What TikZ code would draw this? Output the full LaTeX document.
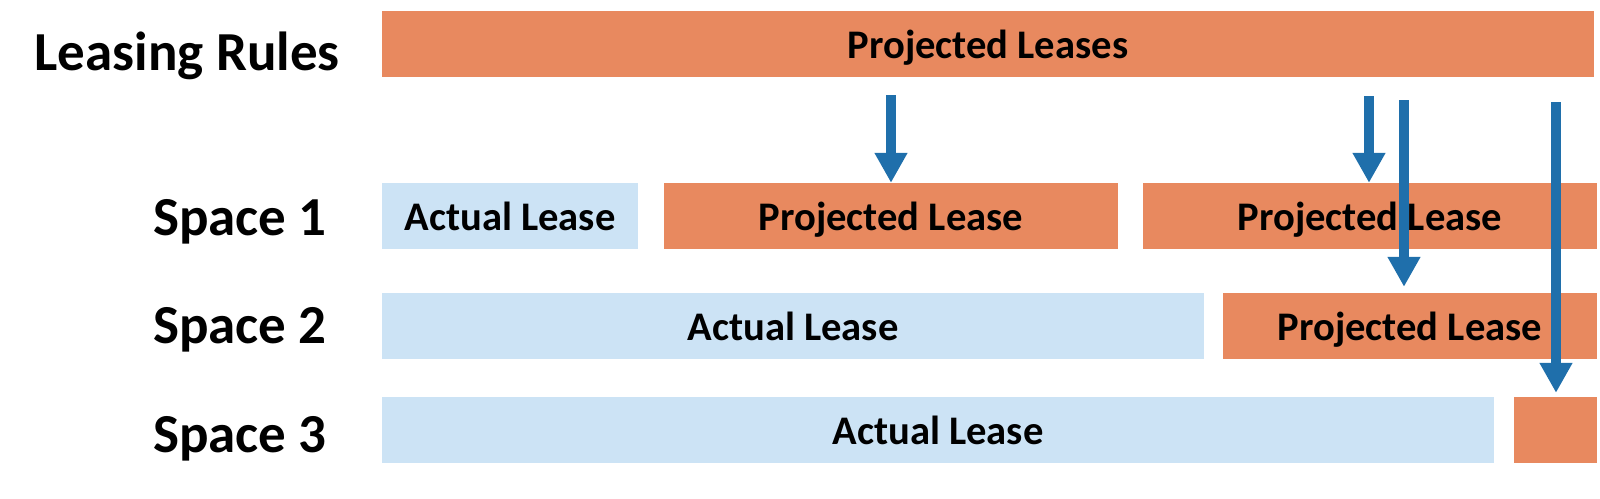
\documentclass[tikz,border=0pt]{standalone}
\usepackage{fontspec}
\setmainfont{Carlito}
\usetikzlibrary{arrows.meta}
\definecolor{projc}{HTML}{E8895F}
\definecolor{actc}{HTML}{CCE3F5}
\definecolor{arrc}{HTML}{1F6FAB}
\tikzset{
 bar/.style={rectangle, inner sep=0pt, minimum height=66pt, text height=28.5pt, text depth=0pt, font=\bfseries\fontsize{40.6}{44}\selectfont, text=black},
 proj/.style={bar, fill=projc},
 act/.style={bar, fill=actc},
 lbl/.style={font=\bfseries\fontsize{55}{60}\selectfont, inner sep=0pt, anchor=base east},
 arr/.style={draw=arrc, line width=10pt, -{Triangle[width=31pt,length=30pt]}},
}
\begin{document}
\begin{tikzpicture}[x=1pt,y=-1pt]
\useasboundingbox (0,0) rectangle (1600,498);
% labels
\node[lbl] (lr) at (340,70) {Leasing Rules};
\node[lbl] (sp1) at (327,235) {Space 1};
\node[lbl] (sp2) at (327,343) {Space 2};
\node[lbl] (sp3) at (327,452) {Space 3};
% top bar
\node[proj, minimum width=1212pt] (top) at (988,44) {Projected Leases};
% space 1
\node[act, minimum width=256pt] (s1a) at (510,216) {Actual Lease};
\node[proj, minimum width=454pt] (pl1) at (891,216) {Projected Lease};
\node[proj, minimum width=454pt] (pl2) at (1370,216) {Projected Lease};
% space 2
\node[act, minimum width=822pt] (s2a) at (793,326) {Actual Lease};
\node[proj, minimum width=374pt] (pp2) at (1410,326) {Projected Lease};
% space 3
\node[act, minimum width=1112pt] (s3a) at (938,430) {Actual Lease};
\node[proj, minimum width=83pt] (s3p) at (1555.5,430) {};
% arrows
\coordinate (a1) at (891,95);
\coordinate (a2) at (1369,96);
\coordinate (a3) at (1404,100);
\coordinate (a4) at (1556,102);
\draw[arr] (a1) -- (a1 |- pl1.north);
\draw[arr] (a2) -- (a2 |- pl2.north);
\draw[arr, shorten >=6pt] (a3) -- (a3 |- pp2.north);
\draw[arr, shorten >=4pt] (a4) -- (a4 |- s3p.north);
\end{tikzpicture}
\end{document}
